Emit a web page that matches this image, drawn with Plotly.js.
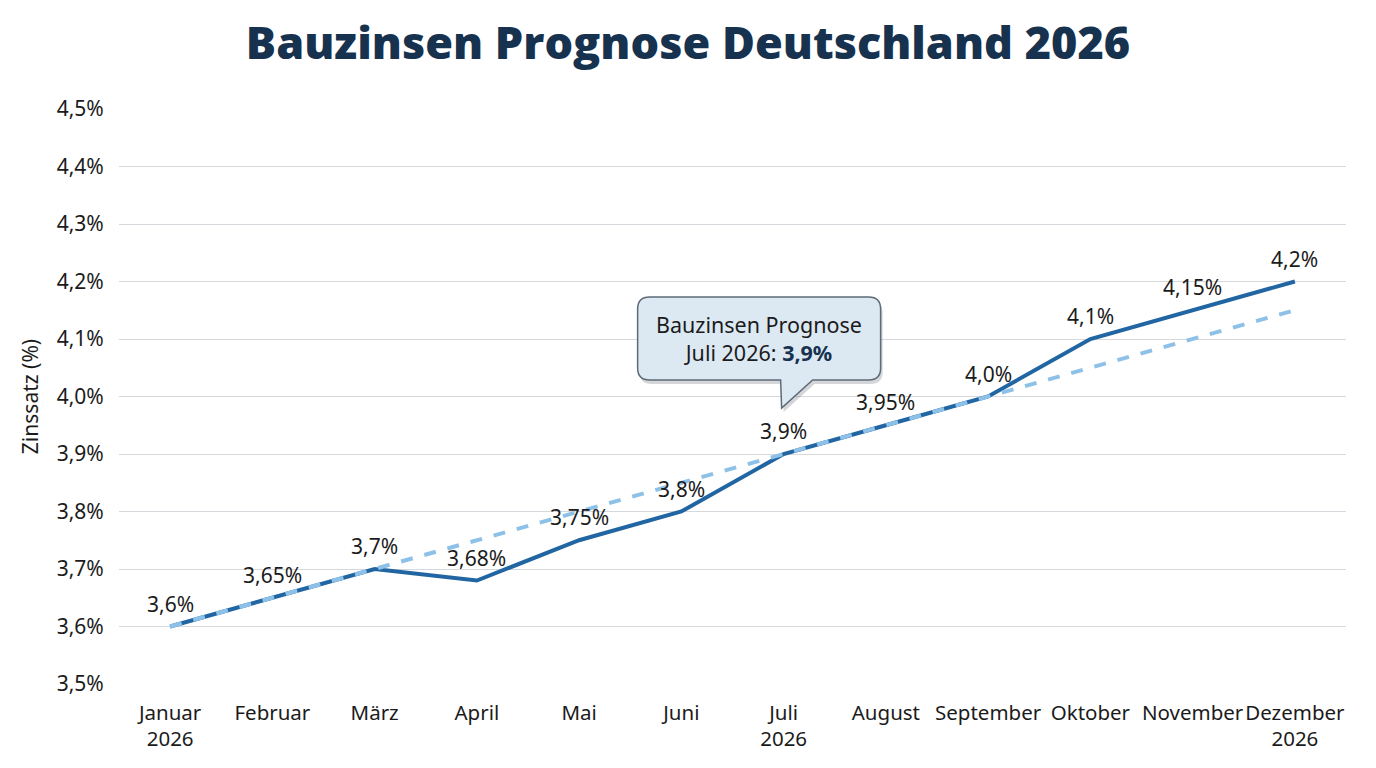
<!DOCTYPE html>
<html><head><meta charset="utf-8">
<script src="https://cdn.plot.ly/plotly-3.0.1.min.js"></script>
<style>html,body{margin:0;padding:0;background:#fff;}#chart{width:1376px;height:768px;}</style>
</head><body><div id="chart"></div>
<script>
const months = ["Januar<br>2026","Februar","März","April","Mai","Juni","Juli<br>2026","August","September","Oktober","November","Dezember<br>2026"];
const forecast = [3.6,3.65,3.7,3.68,3.75,3.8,3.9,3.95,4.0,4.1,4.15,4.2];
const forecastLabels = ["3,6%","3,65%","3,7%","3,68%","3,75%","3,8%","3,9%","3,95%","4,0%","4,1%","4,15%","4,2%"];
const trend = [3.6,3.65,3.7,3.75,3.8,3.85,3.9,3.95,4.0,4.05,4.1,4.15];
const calloutIndex = 6;

const W=1376,H=768, L=119, R=30, T=109, B=84;
const plotW=W-L-R, plotH=H-T-B;
const yMin=3.5,yMax=4.5;
const xpx = i => L + (i+0.5)*plotW/months.length;
const ypx = v => T + (yMax-v)/(yMax-yMin)*plotH;
const px = x => ((x-L)/plotW).toFixed(5);
const py = y => ((H-B-y)/plotH).toFixed(5);

// callout bubble (pixel geometry relative to July point)
const tipX = xpx(calloutIndex)-2, tipY = ypx(forecast[calloutIndex])-46;
const bl=tipX-144, br=tipX+99, bt=tipY-111, bb=tipY-28, r=12;
const tailL=tipX-1, tailR=tipX+31;
function bubble(dx,dy){
  const P=(x,y)=>px(x+dx)+','+py(y+dy);
  return 'M'+P(bl+r,bt)+' L'+P(br-r,bt)+' Q'+P(br,bt)+' '+P(br,bt+r)+
    ' L'+P(br,bb-r)+' Q'+P(br,bb)+' '+P(br-r,bb)+
    ' L'+P(tailR,bb)+' L'+P(tipX,tipY)+' L'+P(tailL,bb)+
    ' L'+P(bl+r,bb)+' Q'+P(bl,bb)+' '+P(bl,bb-r)+
    ' L'+P(bl,bt+r)+' Q'+P(bl,bt)+' '+P(bl+r,bt)+' Z';
}

const font = "Noto Sans, Open Sans, sans-serif";
const traces = [
  {x:months, y:forecast, type:'scatter', mode:'lines',
   line:{color:'#2166a3',width:4}, hoverinfo:'skip'},
  {x:months, y:trend, type:'scatter', mode:'lines',
   line:{color:'#8ec1e8',width:4,dash:'dash'}, hoverinfo:'skip'}
];

const labelAnns = months.map((m,i)=>({
  x:m, y:forecast[i], xref:'x', yref:'y', text:forecastLabels[i], showarrow:false,
  yshift:23, xanchor:'center', yanchor:'middle',
  font:{family:font,size:21,color:'#1b1b1b'}
}));

const layout = {
  width:W, height:H, margin:{l:L,r:R,t:T,b:B},
  paper_bgcolor:'#fff', plot_bgcolor:'#fff', showlegend:false,
  separators:',.',
  title:{text:'Bauzinsen Prognose Deutschland 2026', x:0.5, xref:'container', xanchor:'center', y:0.944, yanchor:'middle',
    font:{family:'Open Sans, sans-serif', size:45, weight:800, color:'#17324f'}},
  xaxis:{type:'category', range:[-0.5,11.5], showgrid:false, zeroline:false, showline:false,
    tickangle:0, ticks:'outside', ticklen:10, tickcolor:'rgba(0,0,0,0)',
    tickfont:{family:font,size:20.5,color:'#1b1b1b'}},
  yaxis:{range:[yMin,yMax], dtick:0.1, tick0:3.5, tickformat:'.1f', ticksuffix:'%',
    showgrid:true, gridcolor:'#d5d9de', gridwidth:1, zeroline:false, showline:false,
    ticks:'outside', ticklen:10, tickcolor:'rgba(0,0,0,0)',
    tickfont:{family:font,size:21,color:'#1b1b1b'},
    title:{text:'Zinssatz (%)', font:{family:font,size:21,color:'#1b1b1b'}, standoff:12}},
  shapes:[
    {type:'path', xref:'paper', yref:'paper', path:bubble(2,4), fillcolor:'rgba(60,70,80,0.22)', line:{width:0}, layer:'above'},
    {type:'path', xref:'paper', yref:'paper', path:bubble(0,0), fillcolor:'#dce9f3', line:{color:'#5d6b78',width:1.5}, layer:'above'}
  ],
  annotations:labelAnns.concat([
    {xref:'paper', yref:'paper', x:px((bl+br)/2), y:py((bt+bb)/2), showarrow:false,
     text:'Bauzinsen Prognose<br>Juli 2026: <b style="color:#17324f">3,9%</b>',
     font:{family:font,size:21.5,color:'#1b1b1b'}, align:'center', xanchor:'center', yanchor:'middle'}
  ])
};
Plotly.newPlot('chart', traces, layout, {displayModeBar:false, staticPlot:true});
</script></body></html>
